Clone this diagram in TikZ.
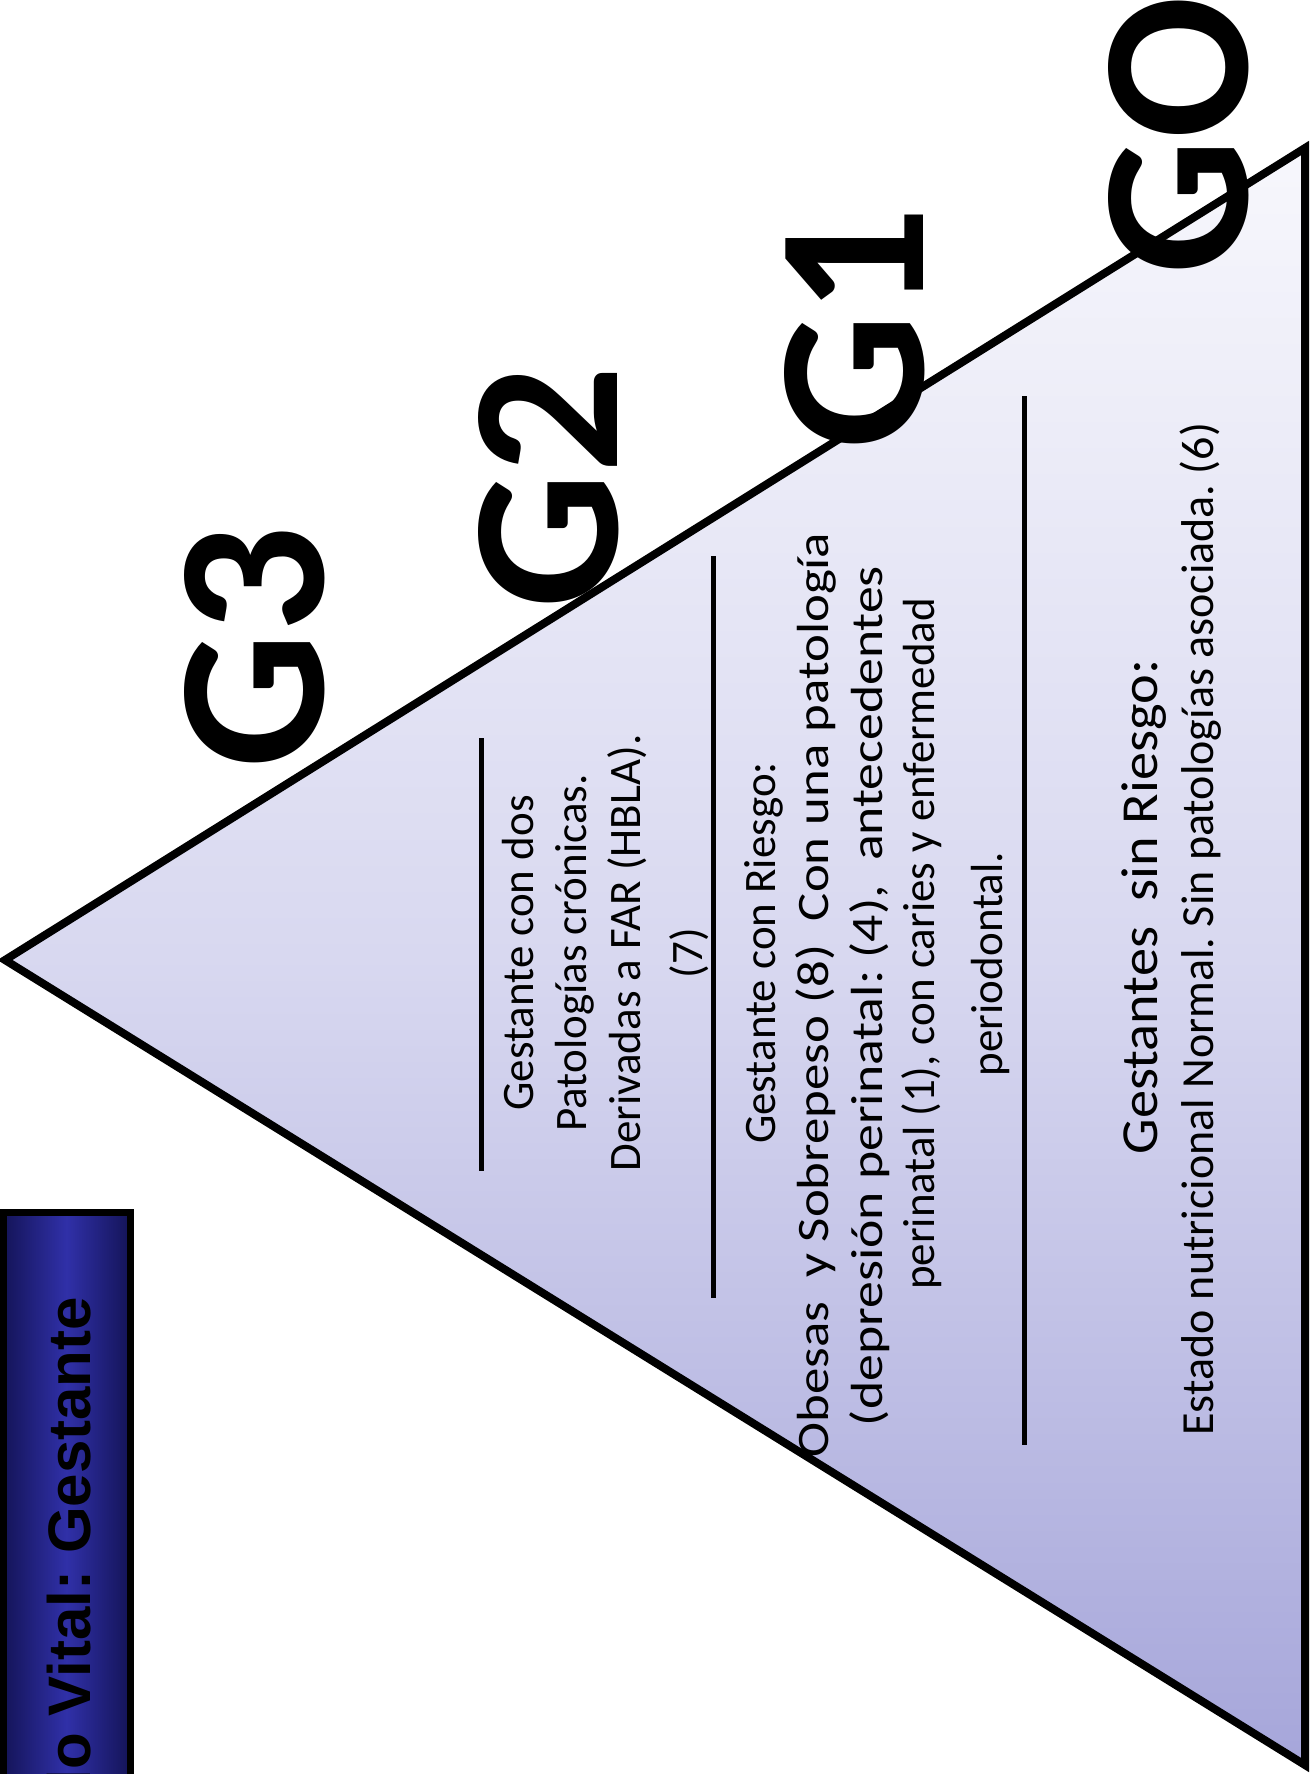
\documentclass[tikz,border=0pt]{standalone}
\usepackage{fontspec}
\usepackage{graphicx}
\setmainfont{Carlito}
\newfontfamily\hdrfont{Liberation Sans}
\definecolor{hdrdark}{HTML}{141458}
\definecolor{hdrblue}{HTML}{3030A8}
\definecolor{tritop}{HTML}{F7F7FC}
\definecolor{trimid}{HTML}{D8D8F0}
\definecolor{tribot}{HTML}{A6A6DA}
\frenchspacing
\begin{document}
\begin{tikzpicture}[x=1pt,y=-1pt,
  body/.style={font=\fontsize{45}{54}\selectfont, rotate=90, anchor=base, inner sep=0pt},
  glab/.style={font=\fontsize{212}{212}\selectfont\bfseries, rotate=90, anchor=base, inner sep=0pt},
  sepline/.style={line width=5pt, black}]
\useasboundingbox (0,0) rectangle (1313,1774);
\clip (0,0) rectangle (1313,1774);
\fill[white] (0,0) rectangle (1313,1774);
% header box
\shade[left color=hdrdark, right color=hdrdark, middle color=hdrblue] (3,1212) rectangle (130,1800);
\draw[line width=7pt, black] (3,1800) -- (3,1212) -- (130,1212) -- (130,1800);
\node[font=\hdrfont\bfseries\fontsize{60}{60}\selectfont, rotate=90, anchor=base east, inner sep=0pt] (title) at (90,1297) {Ciclo Vital: Gestante};
% triangle
\coordinate (A) at (5,960);
\coordinate (B) at (1305,148);
\coordinate (C) at (1305,1765);
\shade[top color=tritop, bottom color=tribot, middle color=trimid] (A) -- (B) -- (C) -- cycle;
% separators
\coordinate (s1a) at (481,738); \coordinate (s1b) at (481,1171);
\coordinate (s2a) at (713,556); \coordinate (s2b) at (713,1298);
\coordinate (s3a) at (1024,396); \coordinate (s3b) at (1024,1445);
\draw[sepline] (s1a) -- (s1b);
\draw[sepline] (s2a) -- (s2b);
\draw[sepline] (s3a) -- (s3b);
% G3 block
\node[body] (g3l1) at (533,953) {Gestante con dos};
\node[body] (g3l2) at (586,953) {Patologías crónicas.};
\node[body] (g3l3) at (640,953) {Derivadas a FAR (HBLA).};
\node[body] (g3l4) at (702,953) {(7)};
% G2 block
\node[body] (g2l1) at (775,953) {Gestante con Riesgo:};
\node[body] (g2l2) at (828,995) {\resizebox{925pt}{\height}{Obesas\ \ y Sobrepeso (8)\ \ Con una patología}};
\node[body] (g2l3) at (882,996) {\resizebox{860pt}{\height}{(depresión perinatal: (4),\ \ antecedentes}};
\node[body] (g2l4) at (934,944) {perinatal (1), con caries y enfermedad};
\node[body] (g2l5) at (1002,964) {periodontal.};
% G1 block
\node[body, font=\fontsize{52}{60}\selectfont] (g1l1) at (1157,907) {\resizebox{495pt}{\height}{Gestantes\ \ sin Riesgo:}};
\node[body, font=\fontsize{46}{55}\selectfont] (g1l2) at (1213,929) {Estado nutricional Normal. Sin patologías asociada. (6)};
% outline
\draw[line width=8pt, black, line join=miter] (A) -- (B) -- (C) -- cycle;
% level labels
\node[glab] (G3) at (323,647) {G3};
\node[glab] (G2) at (617,487) {G2};
\node[glab] (G1) at (923,328) {G1};
\node[glab] (G0) at (1247,135) {GO};
\end{tikzpicture}
\end{document}
